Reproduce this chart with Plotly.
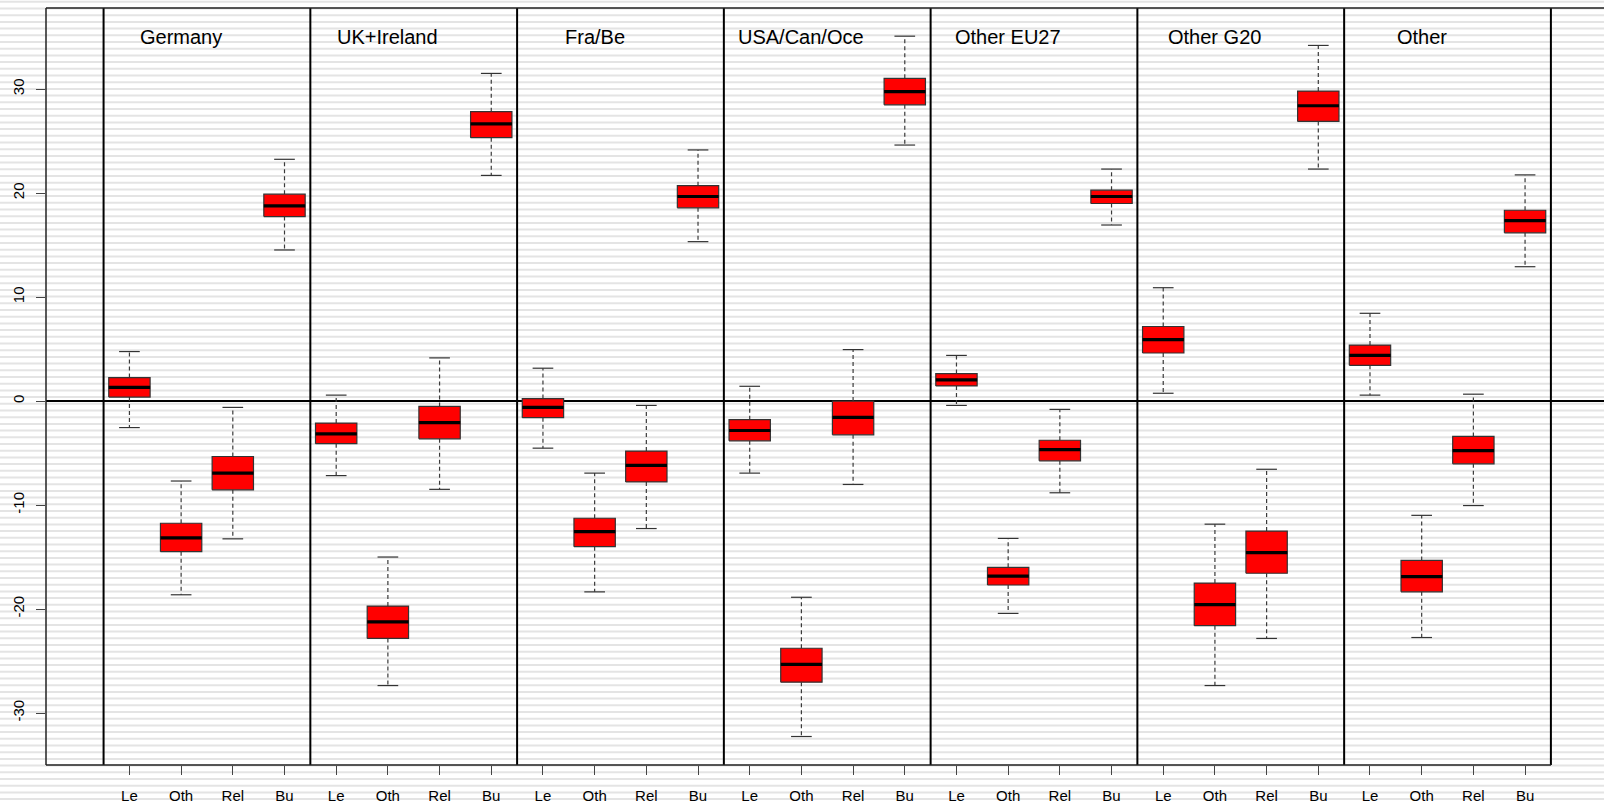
import plotly.graph_objects as go

# ---------------- data ----------------
groups = ["Germany", "UK+Ireland", "Fra/Be", "USA/Can/Oce", "Other EU27", "Other G20", "Other"]
measures = ["Le", "Oth", "Rel", "Bu"]

whisker_high = [
    [4.76, -7.69, -0.61, 23.25],
    [0.57, -15.00, 4.15, 31.51],
    [3.16, -6.93, -0.42, 24.15],
    [1.42, -18.87, 4.95, 35.09],
    [4.39, -13.21, -0.80, 22.31],
    [10.90, -11.84, -6.56, 34.20],
    [8.44, -10.99, 0.66, 21.75],
]
q3 = [
    [2.26, -11.75, -5.33, 19.90],
    [-2.12, -19.72, -0.52, 27.83],
    [0.24, -11.27, -4.81, 20.71],
    [-1.79, -23.77, 0.00, 31.04],
    [2.64, -15.99, -3.77, 20.28],
    [7.17, -17.50, -12.50, 29.81],
    [5.38, -15.33, -3.40, 18.35],
]
median = [
    [1.32, -13.16, -6.93, 18.77],
    [-3.16, -21.23, -2.08, 26.65],
    [-0.61, -12.55, -6.18, 19.67],
    [-2.83, -25.33, -1.56, 29.76],
    [2.03, -16.84, -4.67, 19.67],
    [5.90, -19.58, -14.58, 28.40],
    [4.39, -16.89, -4.76, 17.36],
]
q1 = [
    [0.38, -14.48, -8.54, 17.74],
    [-4.10, -22.83, -3.63, 25.33],
    [-1.60, -14.00, -7.78, 18.58],
    [-3.82, -27.03, -3.25, 28.49],
    [1.46, -17.69, -5.75, 19.00],
    [4.62, -21.60, -16.56, 26.89],
    [3.44, -18.35, -6.04, 16.18],
]
whisker_low = [
    [-2.55, -18.63, -13.25, 14.53],
    [-7.17, -27.36, -8.49, 21.70],
    [-4.53, -18.35, -12.26, 15.33],
    [-6.93, -32.26, -8.02, 24.62],
    [-0.42, -20.42, -8.82, 16.93],
    [0.75, -27.36, -22.83, 22.31],
    [0.57, -22.74, -10.05, 12.92],
]
y_ticks = [-30, -20, -10, 0, 10, 20, 30]

# ---------------- geometry helpers ----------------
W, H = 1604, 804
ML, MT, MB = 46, 8, 39
BOXW = 0.8
CAPW = 0.4
n_meas = len(measures)
XMIN = -0.614
PX_PER_UNIT = 51.69
XMAX = XMIN + (W - ML) / PX_PER_UNIT
YMIN, YMAX = -35.0, 37.8

box_x, box_y = [], []
med_x, med_y = [], []
wh_x, wh_y = [], []
cap_x, cap_y = [], []
tickvals, ticktext = [], []
for g in range(len(groups)):
    for m in range(n_meas):
        p = g * n_meas + m + 1
        tickvals.append(p)
        ticktext.append(measures[m])
        lo, hi = p - BOXW / 2, p + BOXW / 2
        box_x += [lo, hi, hi, lo, lo, None]
        box_y += [q1[g][m], q1[g][m], q3[g][m], q3[g][m], q1[g][m], None]
        med_x += [lo, hi, None]
        med_y += [median[g][m], median[g][m], None]
        wh_x += [p, p, None, p, p, None]
        wh_y += [q3[g][m], whisker_high[g][m], None, q1[g][m], whisker_low[g][m], None]
        cap_x += [p - CAPW / 2, p + CAPW / 2, None, p - CAPW / 2, p + CAPW / 2, None]
        cap_y += [whisker_high[g][m], whisker_high[g][m], None,
                  whisker_low[g][m], whisker_low[g][m], None]

fig = go.Figure()
fig.add_trace(go.Scatter(x=wh_x, y=wh_y, mode="lines", hoverinfo="skip",
                         line=dict(color="#3a3a3a", width=1.2, dash="4px,3px"), showlegend=False))
fig.add_trace(go.Scatter(x=cap_x, y=cap_y, mode="lines", hoverinfo="skip",
                         line=dict(color="#333333", width=1.2), showlegend=False))
fig.add_trace(go.Scatter(x=box_x, y=box_y, mode="lines", fill="toself", fillcolor="#FF0000",
                         line=dict(color="#333333", width=1.2), showlegend=False))
fig.add_trace(go.Scatter(x=med_x, y=med_y, mode="lines", hoverinfo="skip",
                         line=dict(color="black", width=3.2), showlegend=False))

# group titles
for g, name in enumerate(groups):
    fig.add_annotation(x=g * n_meas + 2, y=35, text=name, showarrow=False,
                       xanchor="center", yanchor="middle",
                       font=dict(family="Arial, Liberation Sans, sans-serif", size=20, color="black"))

shapes = []
# background stripes over the whole page
plot_h = H - MT - MB
period = 6.7
py = 1.8
while py < H:
    yp = (H - MB - py) / plot_h
    shapes.append(dict(type="line", xref="paper", yref="paper", x0=-ML / (W - ML), x1=1.0,
                       y0=yp, y1=yp, line=dict(color="#e4e4e4", width=2), layer="below"))
    py += period
# group separators
for g in range(len(groups) + 1):
    xs = g * n_meas + 0.5
    shapes.append(dict(type="line", xref="x", yref="paper", x0=xs, x1=xs, y0=0, y1=1,
                       line=dict(color="black", width=2)))
# frame: left, top, bottom
shapes.append(dict(type="line", xref="paper", yref="paper", x0=0, x1=0, y0=0, y1=1,
                   line=dict(color="#222222", width=1.5)))
shapes.append(dict(type="line", xref="paper", yref="paper", x0=0, x1=1, y0=1, y1=1,
                   line=dict(color="#222222", width=1.5)))
shapes.append(dict(type="line", xref="x", yref="paper", x0=XMIN, x1=len(groups) * n_meas + 0.5,
                   y0=0, y1=0, line=dict(color="#222222", width=1.5)))

fig.update_layout(
    width=W, height=H,
    margin=dict(l=ML, r=0, t=MT, b=MB, pad=0),
    paper_bgcolor="white", plot_bgcolor="rgba(0,0,0,0)",
    shapes=shapes,
    showlegend=False,
    font=dict(family="Arial, Liberation Sans, sans-serif", size=15, color="black"),
    xaxis=dict(range=[XMIN, XMAX], tickvals=tickvals, ticktext=ticktext,
               ticks="outside", ticklen=9, tickwidth=1.2, tickcolor="#444444",
               showgrid=False, zeroline=False, showline=False, automargin=False,
               ticklabelstandoff=8, tickfont=dict(size=15)),
    yaxis=dict(range=[YMIN, YMAX], tickvals=y_ticks, ticktext=[str(v) for v in y_ticks],
               ticks="outside", ticklen=9, tickwidth=1.2, tickcolor="#444444",
               tickangle=-90, showgrid=False, zeroline=True, zerolinecolor="black",
               zerolinewidth=2, showline=False, automargin=False,
               ticklabelstandoff=6, tickfont=dict(size=15)),
)

fig.write_html("out.html",
               config={"displayModeBar": False},
               post_script="document.body.style.margin='0';document.body.style.overflow='hidden';")
